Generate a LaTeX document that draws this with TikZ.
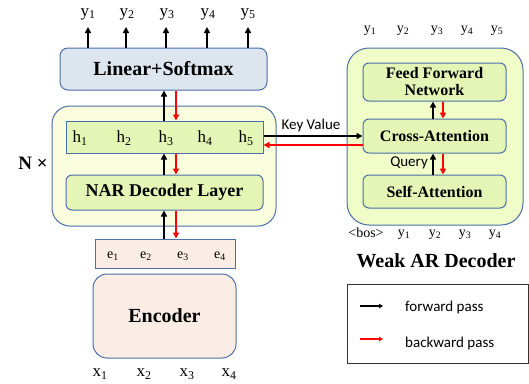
\documentclass[tikz,border=0pt]{standalone}
\usepackage{fontspec}
\setmainfont{Liberation Serif}
\newfontfamily\calfont{Carlito}
\usetikzlibrary{arrows.meta}
\definecolor{bordc}{HTML}{4B6FA8}
\definecolor{linfill}{HTML}{DDE5EE}
\definecolor{narfill}{HTML}{FAFDDE}
\definecolor{arfill}{HTML}{F0FDC8}
\definecolor{innfill}{HTML}{E4F5B5}
\definecolor{encfill}{HTML}{FBEDE6}
\definecolor{redc}{HTML}{FF0000}
\tikzset{
  x=1pt,y=-1pt,
  boxbase/.style={draw=bordc,line width=1pt,inner sep=0pt,align=center},
  outerbox/.style={boxbase,fill=narfill,rounded corners=18pt},
  innbox/.style={boxbase,fill=innfill,rounded corners=6pt,font=\bfseries\fontsize{18}{19}\selectfont},
  fwd/.style={line width=1.8pt,-{Triangle[length=6pt,width=6pt]}},
  bwd/.style={line width=1.8pt,redc,-{Triangle[length=6pt,width=6pt]}},
  lbl/.style={inner sep=0pt,font=\fontsize{17}{18}\selectfont},
  slbl/.style={inner sep=0pt,font=\fontsize{14}{15}\selectfont},
}
\begin{document}
\begin{tikzpicture}
\useasboundingbox (0,0) rectangle (529,383);
% columns for arrows
\coordinate (xb) at (164,0);
\coordinate (xr) at (176,0);
\coordinate (abx) at (433,0);
\coordinate (arx) at (443,0);
\coordinate (kvy) at (0,136);
\coordinate (bpy) at (0,145);

% NAR side
\node[outerbox,minimum width=224pt,minimum height=120pt] (nar) at (164,166) {};
\node[boxbase,fill=linfill,rounded corners=8pt,minimum width=207pt,minimum height=42pt,font=\bfseries\fontsize{20}{21}\selectfont] (lin) at (163.5,69) {Linear+Softmax};
\node[boxbase,fill=innfill,minimum width=197pt,minimum height=32pt] (hbox) at (164.5,137) {};
\node[innbox,minimum width=197pt,minimum height=35pt] (narl) at (164.5,192.5) {NAR Decoder Layer};
\node[boxbase,fill=encfill,minimum width=140pt,minimum height=29pt] (ebox) at (165,253.5) {};
\node[boxbase,fill=encfill,rounded corners=14pt,minimum width=143pt,minimum height=84pt,font=\bfseries\fontsize{20}{22}\selectfont] (enc) at (164.5,316) {Encoder};

\node[inner sep=0pt,font=\bfseries\fontsize{19}{20}\selectfont] (nx) at (33,163) {N ×};

% h labels
\node[lbl] (h1) at (80,138) {h\textsubscript{1}};
\node[lbl] (h2) at (124,138) {h\textsubscript{2}};
\node[lbl] (h3) at (166,138) {h\textsubscript{3}};
\node[lbl] (h4) at (205,138) {h\textsubscript{4}};
\node[lbl] (h5) at (246,138) {h\textsubscript{5}};
% e labels
\node[slbl] (e1) at (113,256) {e\textsubscript{1}};
\node[slbl] (e2) at (146,256) {e\textsubscript{2}};
\node[slbl] (e3) at (183,256) {e\textsubscript{3}};
\node[slbl] (e4) at (220,256) {e\textsubscript{4}};
% x labels
\node[lbl] (x1) at (100,374) {x\textsubscript{1}};
\node[lbl] (x2) at (144,374) {x\textsubscript{2}};
\node[lbl] (x3) at (187,374) {x\textsubscript{3}};
\node[lbl] (x4) at (229,374) {x\textsubscript{4}};
% y labels top
\node[lbl] (y1) at (88,14) {y\textsubscript{1}};
\node[lbl] (y2) at (127,14) {y\textsubscript{2}};
\node[lbl] (y3) at (167,14) {y\textsubscript{3}};
\node[lbl] (y4) at (208,14) {y\textsubscript{4}};
\node[lbl] (y5) at (248,14) {y\textsubscript{5}};
\coordinate (t1) at (88,27);
\coordinate (t2) at (126,27);
\coordinate (t3) at (166,27);
\coordinate (t4) at (207,27);
\coordinate (t5) at (248,27);
\foreach \t in {t1,t2,t3,t4,t5}{
  \draw[fwd] (lin.north -| \t) -- (\t);
}
% vertical arrows NAR
\draw[fwd] (hbox.north -| xb) -- (lin.south -| xb);
\draw[bwd] (lin.south -| xr) -- (hbox.north -| xr);
\draw[fwd] (narl.north -| xb) -- (hbox.south -| xb);
\draw[bwd] (hbox.south -| xr) -- (narl.north -| xr);
\draw[fwd] (ebox.north -| xb) -- (narl.south -| xb);
\draw[bwd] (narl.south -| xr) -- (ebox.north -| xr);

% Weak AR decoder
\node[outerbox,fill=arfill,rounded corners=22pt,minimum width=176pt,minimum height=177pt] (ardec) at (435,136.5) {};
\node[innbox,font=\bfseries\fontsize{16}{17}\selectfont,minimum width=143pt,minimum height=38pt] (ffn) at (434.5,82) {Feed Forward\\Network};
\node[innbox,font=\bfseries\fontsize{16}{17}\selectfont,minimum width=143pt,minimum height=34pt] (cross) at (434.5,136) {Cross-Attention};
\node[innbox,font=\bfseries\fontsize{16}{17}\selectfont,minimum width=143pt,minimum height=33pt] (self) at (434.5,191.5) {Self-Attention};
\draw[fwd] (cross.north -| abx) -- (ffn.south -| abx);
\draw[bwd] (ffn.south -| arx) -- (cross.north -| arx);
\draw[fwd] (self.north -| abx) -- (cross.south -| abx);
\draw[bwd] (cross.south -| arx) -- (self.north -| arx);
\node[inner sep=0pt,font=\calfont\fontsize{15}{16}\selectfont,anchor=east] (q) at (428,163) {Query};

% key value
\draw[fwd] (hbox.east |- kvy) -- (cross.west |- kvy);
\draw[bwd] (cross.west |- bpy) -- (hbox.east |- bpy);
\node[inner sep=0pt,font=\calfont\fontsize{15}{16}\selectfont] (kv) at (311,125) {Key Value};

% right labels
\node[slbl] (ry1) at (370,31) {y\textsubscript{1}};
\node[slbl] (ry2) at (403,31) {y\textsubscript{2}};
\node[slbl] (ry3) at (437,31) {y\textsubscript{3}};
\node[slbl] (ry4) at (467,31) {y\textsubscript{4}};
\node[slbl] (ry5) at (497,31) {y\textsubscript{5}};
\node[slbl] (bos) at (366,233) {<bos>};
\node[slbl] (by1) at (404,235) {y\textsubscript{1}};
\node[slbl] (by2) at (435,235) {y\textsubscript{2}};
\node[slbl] (by3) at (465,235) {y\textsubscript{3}};
\node[slbl] (by4) at (495,235) {y\textsubscript{4}};
\node[inner sep=0pt,font=\bfseries\fontsize{20}{22}\selectfont] (war) at (436,261) {Weak AR Decoder};

% legend
\node[draw=black!80,line width=0.9pt,minimum width=181pt,minimum height=79pt,inner sep=0pt] (leg) at (437.5,323.5) {};
\coordinate (lf1) at (360,306);
\coordinate (lf2) at (383,306);
\coordinate (lb1) at (360,339);
\coordinate (lb2) at (383,339);
\draw[line width=1.5pt,-{Triangle[length=4pt,width=4.5pt]}] (lf1) -- (lf2);
\draw[line width=1.5pt,redc,-{Triangle[length=4pt,width=4.5pt]}] (lb1) -- (lb2);
\node[inner sep=0pt,anchor=west,font=\calfont\fontsize{15}{16}\selectfont] (lt1) at (405,307) {forward pass};
\node[inner sep=0pt,anchor=west,font=\calfont\fontsize{15}{16}\selectfont] (lt2) at (405,343) {backward pass};
\end{tikzpicture}
\end{document}
